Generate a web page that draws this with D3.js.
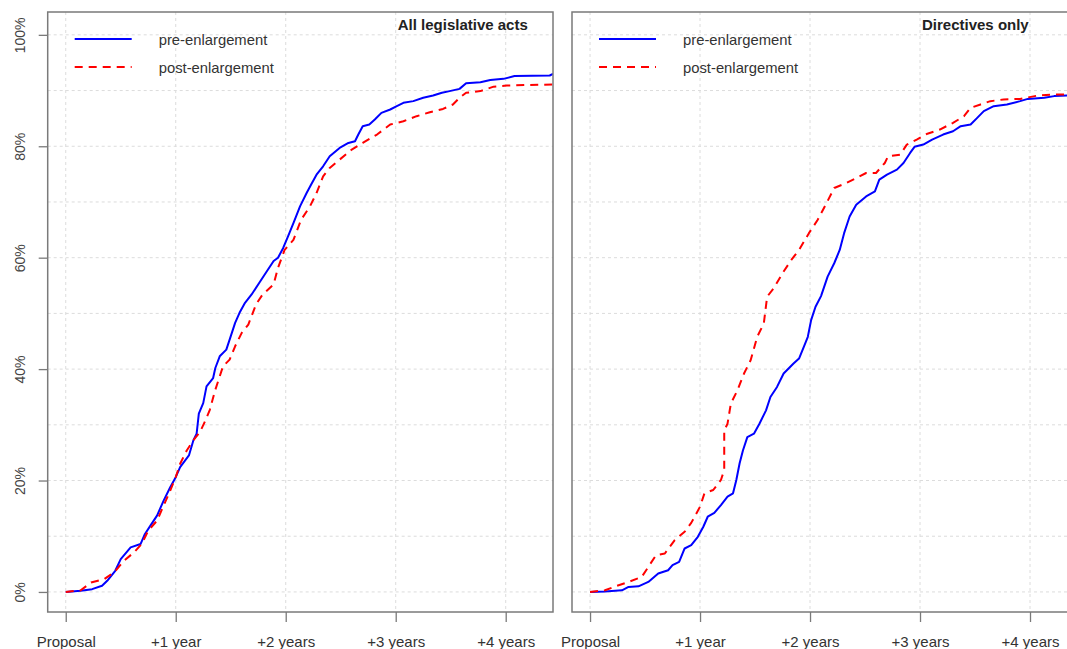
<!DOCTYPE html>
<html><head><meta charset="utf-8">
<script src="https://cdn.jsdelivr.net/npm/d3@7"></script>
<style>
html,body{margin:0;padding:0;background:#fff;overflow:hidden;}
svg{display:block;font-family:"Liberation Sans",Arial,sans-serif;}
</style></head>
<body>
<svg id="c" width="1067" height="649"></svg>
<script>
// ---- data (years since proposal, cumulative % adopted) ----
const xTickValues = [0, 1, 2, 3, 4];
const xTickLabels = ["Proposal", "+1 year", "+2 years", "+3 years", "+4 years"];
const yTickValues = [0, 20, 40, 60, 80, 100];
const yTickLabels = ["0%", "20%", "40%", "60%", "80%", "100%"];
const seriesNames = ["pre-enlargement", "post-enlargement"];
const panelTitles = ["All legislative acts", "Directives only"];

const allPre = [[0,0],[0.136,0.2],[0.24,0.5],[0.33,1.1],[0.377,2.0],[0.45,3.8],[0.5,5.9],[0.59,8.0],[0.68,8.6],[0.72,10.4],[0.77,11.9],[0.83,13.7],[0.89,16.4],[0.95,18.8],[1.0,20.6],[1.04,22.4],[1.12,24.5],[1.16,27.2],[1.19,28.4],[1.21,32.0],[1.25,33.9],[1.28,36.9],[1.34,38.4],[1.36,40.2],[1.40,42.3],[1.46,43.5],[1.49,45.3],[1.54,48.3],[1.58,50.1],[1.63,51.9],[1.69,53.4],[1.76,55.5],[1.83,57.6],[1.89,59.4],[1.93,60.0],[1.976,61.7],[2.02,63.8],[2.07,66.2],[2.13,69.2],[2.19,71.6],[2.23,73.1],[2.28,74.9],[2.34,76.4],[2.40,78.2],[2.49,79.7],[2.57,80.6],[2.63,80.9],[2.66,82.1],[2.70,83.6],[2.76,83.9],[2.81,84.8],[2.87,86.0],[2.95,86.6],[3.01,87.2],[3.07,87.8],[3.16,88.1],[3.25,88.7],[3.34,89.1],[3.42,89.6],[3.49,89.9],[3.58,90.3],[3.64,91.3],[3.77,91.5],[3.86,91.9],[3.98,92.1],[4.08,92.6],[4.40,92.7],[4.43,93.0]];
const allPost = [[0,0],[0.136,0.3],[0.23,1.7],[0.35,2.3],[0.44,3.5],[0.53,5.6],[0.62,7.1],[0.69,8.6],[0.75,11.0],[0.83,12.8],[0.89,15.5],[0.95,18.2],[1.0,20.6],[1.04,23.0],[1.10,25.4],[1.16,27.2],[1.22,28.7],[1.27,30.8],[1.31,32.7],[1.36,36.3],[1.40,38.7],[1.43,40.5],[1.49,41.7],[1.54,44.1],[1.60,46.5],[1.66,48.0],[1.73,51.6],[1.79,53.4],[1.89,55.2],[1.93,58.2],[1.99,61.4],[2.07,63.2],[2.14,66.8],[2.22,69.2],[2.28,71.6],[2.34,74.6],[2.40,76.1],[2.49,77.6],[2.60,79.4],[2.70,80.6],[2.83,82.1],[2.95,83.9],[3.07,84.5],[3.19,85.4],[3.31,86.1],[3.43,86.7],[3.52,87.5],[3.58,88.7],[3.64,89.6],[3.77,89.9],[3.89,90.7],[4.01,90.9],[4.22,91.0],[4.43,91.1]];
const dirPre = [[0,0],[0.136,0.1],[0.29,0.3],[0.35,0.9],[0.44,1.0],[0.53,1.8],[0.62,3.3],[0.71,3.9],[0.75,4.8],[0.81,5.4],[0.86,7.8],[0.92,8.4],[0.98,9.9],[1.03,11.7],[1.07,13.5],[1.13,14.2],[1.19,15.6],[1.25,17.1],[1.30,17.7],[1.33,20.1],[1.36,23.1],[1.39,25.4],[1.43,27.8],[1.49,28.4],[1.54,30.2],[1.60,32.6],[1.64,35.0],[1.70,36.8],[1.76,39.2],[1.85,41.0],[1.90,41.9],[1.95,44.3],[1.98,45.8],[2.01,48.8],[2.05,51.2],[2.10,53.1],[2.16,56.6],[2.22,59.0],[2.27,61.4],[2.31,64.4],[2.36,67.4],[2.42,69.5],[2.51,71.0],[2.59,71.9],[2.63,74.0],[2.70,74.9],[2.79,75.8],[2.85,77.0],[2.91,78.8],[2.95,79.9],[3.03,80.3],[3.11,81.2],[3.21,82.1],[3.30,82.7],[3.37,83.6],[3.46,83.9],[3.52,85.1],[3.58,86.3],[3.67,87.2],[3.79,87.5],[3.91,88.1],[3.98,88.5],[4.13,88.7],[4.22,89.0],[4.34,89.1],[4.43,89.2]];
const dirPost = [[0,0],[0.136,0.3],[0.23,1.0],[0.35,1.8],[0.47,2.7],[0.53,4.5],[0.60,6.6],[0.68,6.9],[0.77,9.3],[0.86,10.8],[0.92,12.4],[1.00,15.3],[1.04,17.7],[1.12,18.3],[1.19,20.1],[1.22,21.9],[1.22,29.0],[1.25,30.2],[1.28,33.8],[1.34,36.2],[1.40,39.2],[1.46,41.6],[1.52,45.8],[1.58,48.2],[1.61,53.0],[1.67,54.5],[1.75,57.2],[1.83,59.6],[1.90,61.4],[1.99,64.4],[2.07,66.8],[2.15,69.8],[2.22,72.5],[2.33,73.4],[2.42,74.3],[2.51,75.2],[2.60,75.2],[2.68,77.0],[2.71,78.2],[2.82,78.5],[2.88,80.3],[2.97,81.2],[3.06,82.2],[3.18,83.0],[3.30,84.2],[3.40,85.4],[3.46,86.9],[3.55,87.5],[3.64,88.1],[3.76,88.4],[3.91,88.5],[4.07,89.1],[4.22,89.3],[4.43,89.3]];

// ---- drawing ----
const svg = d3.select("#c");
const topY = 12, botY = 612;
const panels = [
  {x0: 47.7, x1: 553, title: panelTitles[0], pre: allPre, post: allPost, yAxis: true},
  {x0: 572, x1: 1077.3, title: panelTitles[1], pre: dirPre, post: dirPost, yAxis: false}
];
const y = d3.scaleLinear().domain([-3.6, 104.1]).range([botY, topY]);
const colors = ["#0000ff", "#ff0000"];
const dashes = [null, "8,6"];
const frameCol = "#7a7a7a";

panels.forEach((p, i) => {
  const x = d3.scaleLinear().domain([-0.164, 4.43]).range([p.x0, p.x1]);
  const g = svg.append("g");
  const clipId = "clip" + i;
  svg.append("clipPath").attr("id", clipId).append("rect")
    .attr("x", p.x0).attr("y", topY).attr("width", p.x1 - p.x0).attr("height", botY - topY);

  // grid
  const grid = g.append("g").attr("stroke", "#dcdcdc").attr("stroke-width", 1).attr("stroke-dasharray", "3,3");
  d3.range(0, 101, 10).forEach(v => {
    grid.append("line").attr("x1", p.x0).attr("x2", p.x1).attr("y1", y(v)).attr("y2", y(v));
  });
  xTickValues.forEach(v => {
    grid.append("line").attr("x1", x(v)).attr("x2", x(v)).attr("y1", topY).attr("y2", botY);
  });

  // lines
  const line = d3.line().x(d => x(d[0])).y(d => y(d[1]));
  [p.pre, p.post].forEach((s, k) => {
    g.append("path").attr("d", line(s)).attr("fill", "none")
      .attr("clip-path", `url(#${clipId})`)
      .attr("stroke", colors[k]).attr("stroke-width", 2)
      .attr("stroke-dasharray", dashes[k]).attr("stroke-linejoin", "round");
  });

  // frame
  g.append("rect").attr("x", p.x0).attr("y", topY).attr("width", p.x1 - p.x0).attr("height", botY - topY)
    .attr("fill", "none").attr("stroke", frameCol).attr("stroke-width", 1.5);

  // x axis
  const xa = g.append("g").attr("transform", `translate(0,${botY})`)
    .call(d3.axisBottom(x).tickValues(xTickValues).tickSize(10).tickPadding(14)
      .tickFormat((d, j) => xTickLabels[j]));
  xa.select(".domain").remove();
  xa.selectAll("line").attr("stroke", frameCol).attr("stroke-width", 1.3);
  xa.selectAll("text").attr("font-size", 15).attr("fill", "#333").attr("font-family", "Liberation Sans, Arial, sans-serif");

  // y axis
  if (p.yAxis) {
    const ya = g.append("g").attr("transform", `translate(${p.x0},0)`)
      .call(d3.axisLeft(y).tickValues(yTickValues).tickSize(9).tickFormat((d, j) => yTickLabels[j]));
    ya.select(".domain").remove();
    ya.selectAll("line").attr("stroke", frameCol).attr("stroke-width", 1.3);
    ya.selectAll("text").attr("font-size", 14).attr("fill", "#444")
      .attr("font-family", "Liberation Sans, Arial, sans-serif")
      .attr("text-anchor", "middle").attr("dy", null).attr("x", null)
      .attr("transform", d => `translate(${25 - p.x0},0) rotate(-90)`);
  }

  // title
  g.append("text").attr("x", x(3) + 2).attr("y", 30).text(p.title)
    .attr("font-size", 15).attr("font-weight", "bold").attr("fill", "#222");

  // legend
  seriesNames.forEach((nm, k) => {
    const ly = 39 + k * 28;
    g.append("line").attr("x1", p.x0 + 27).attr("x2", p.x0 + 84).attr("y1", ly).attr("y2", ly)
      .attr("stroke", colors[k]).attr("stroke-width", 2).attr("stroke-dasharray", dashes[k]);
    g.append("text").attr("x", p.x0 + 111).attr("y", ly + 6).text(nm)
      .attr("font-size", 14.8).attr("fill", "#333");
  });
});
</script>
</body></html>
